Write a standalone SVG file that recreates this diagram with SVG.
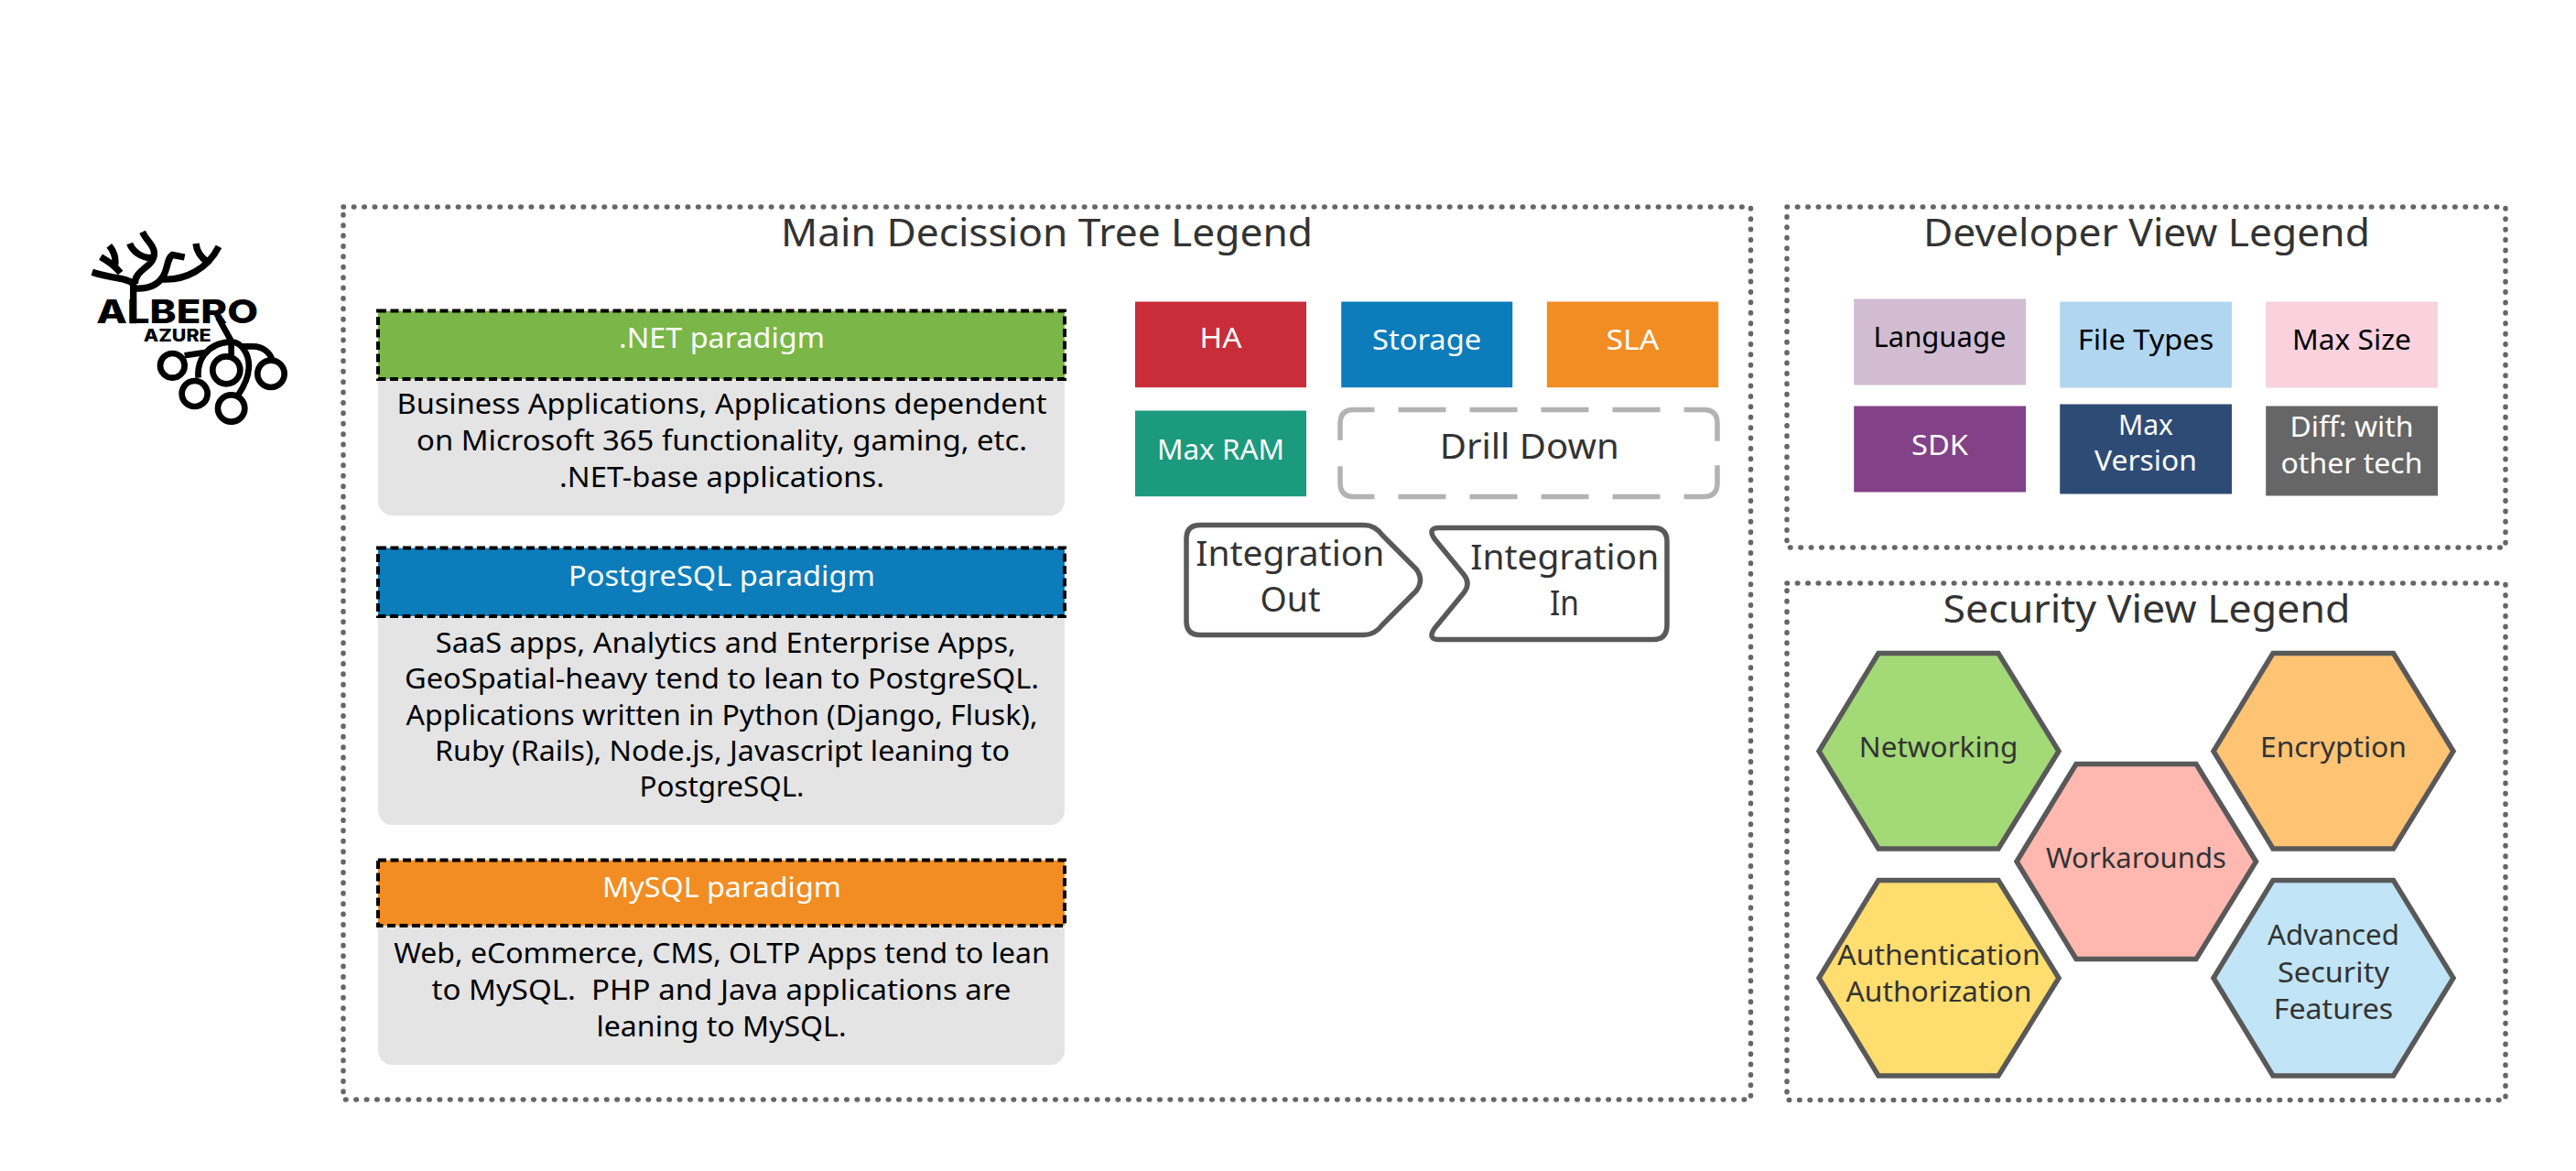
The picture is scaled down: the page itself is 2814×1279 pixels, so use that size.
<svg xmlns="http://www.w3.org/2000/svg" width="2814" height="1279" viewBox="0 0 2814 1279">
<style>
text{font-family:"Noto Sans","Open Sans","DejaVu Sans",sans-serif;text-anchor:middle;font-size:31px;fill:#000}
.title{font-size:42px;fill:#333}
.big{font-size:38px;fill:#333}
.w{fill:#fff}
.d{fill:#333}
.frame{fill:none;stroke:#666;stroke-width:5.5;stroke-linecap:round;stroke-dasharray:.5 10.9}
.head{stroke:#000;stroke-width:4;stroke-dasharray:9 4.5}
.panel{fill:#e4e4e4}
.hex{stroke:#595959;stroke-width:5.5}
.shape{fill:#fff;stroke:#595959;stroke-width:5.5}
.logo{fill:none;stroke:#000;stroke-width:22}
.ring{stroke-width:20}
.lt{font-family:"Inter","Liberation Sans",sans-serif;font-weight:800;fill:#000}
</style>
<rect width="2814" height="1279" fill="#fff"/>
<g id="logo">
<g class="logo" transform="translate(60 210) scale(.3333)">
<path d="M257 430V300M257 302C245 280 190 285 122 262M215 264C195 240 180 230 150 212M197 238Q202 205 178 175M262 300C262 250 330 245 325 195C322 170 300 160 287 130M316 215C285 215 255 195 245 168M262 315C310 318 340 300 355 275C370 250 368 215 385 205L425 213M350 285C430 290 500 250 537 178M500 228C480 215 465 195 462 168"/>
<path class="ring" d="M535 410L578 488M470 608C465 560 490 495 575 490C610 490 640 530 635 580C632 620 610 650 600 665M578 490V540M425 535L490 525M610 505H650C680 505 705 525 712 550"/>
<circle class="ring" cx="385" cy="568" r="40"/><circle class="ring" cx="562" cy="583" r="45"/><circle class="ring" cx="708" cy="595" r="44"/><circle class="ring" cx="458" cy="660" r="42"/><circle class="ring" cx="578" cy="708" r="44"/>
</g>
<text class="lt" x="193.7" y="352.7" style="font-size:36px" textLength="177" lengthAdjust="spacingAndGlyphs">ALBERO</text>
<text class="lt" x="193.7" y="372.7" style="font-size:18.5px" textLength="74" lengthAdjust="spacingAndGlyphs">AZURE</text>
</g>
<g transform="translate(0 1.5)">
<g id="frames">
<rect id="main-frame" class="frame" x="375" y="224.5" width="1537.5" height="975"/>
<rect id="dev-frame" class="frame" x="1952" y="224.5" width="785" height="372"/>
<rect id="sec-frame" class="frame" x="1952" y="635.5" width="785" height="564.5"/>
<text class="title" x="1143.6" y="267.5" textLength="581" lengthAdjust="spacingAndGlyphs">Main Decission Tree Legend</text>
<text class="title" x="2345" y="267.5" textLength="488" lengthAdjust="spacingAndGlyphs">Developer View Legend</text>
<text class="title" x="2345" y="678" textLength="445" lengthAdjust="spacingAndGlyphs">Security View Legend</text>
</g>
<g id="net-paradigm">
<rect class="panel" x="413" y="395" width="750" height="166.7" rx="16"/>
<rect class="head" x="413" y="338" width="750" height="74.5" fill="#7ab648"/>
<text class="w" x="788.5" y="378" textLength="225" lengthAdjust="spacingAndGlyphs">.NET paradigm</text>
<text x="788.5" y="450" textLength="710" lengthAdjust="spacingAndGlyphs">Business Applications, Applications dependent</text>
<text x="788.5" y="490" textLength="667" lengthAdjust="spacingAndGlyphs">on Microsoft 365 functionality, gaming, etc.</text>
<text x="788.5" y="530" textLength="355" lengthAdjust="spacingAndGlyphs">.NET-base applications.</text>
</g>
<g id="postgres-paradigm">
<rect class="panel" x="413" y="655" width="750" height="244.6" rx="16"/>
<rect class="head" x="413" y="597" width="750" height="74.5" fill="#0c7cba"/>
<text class="w" x="788.5" y="638.4" textLength="335" lengthAdjust="spacingAndGlyphs">PostgreSQL paradigm</text>
<text x="792.8" y="711.4" textLength="634" lengthAdjust="spacingAndGlyphs">SaaS apps, Analytics and Enterprise Apps,</text>
<text x="788.5" y="750.6" textLength="693" lengthAdjust="spacingAndGlyphs">GeoSpatial-heavy tend to lean to PostgreSQL.</text>
<text x="788.5" y="790" textLength="690" lengthAdjust="spacingAndGlyphs">Applications written in Python (Django, Flusk),</text>
<text x="789" y="829" textLength="628" lengthAdjust="spacingAndGlyphs">Ruby (Rails), Node.js, Javascript leaning to</text>
<text x="788.5" y="868" textLength="180" lengthAdjust="spacingAndGlyphs">PostgreSQL.</text>
</g>
<g id="mysql-paradigm">
<rect class="panel" x="413" y="990" width="750" height="171.6" rx="16"/>
<rect class="head" x="413" y="938" width="750" height="71.5" fill="#f18d22"/>
<text class="w" x="788.5" y="978" textLength="261" lengthAdjust="spacingAndGlyphs">MySQL paradigm</text>
<text x="788.5" y="1050.6" textLength="716.6" lengthAdjust="spacingAndGlyphs">Web, eCommerce, CMS, OLTP Apps tend to lean</text>
<text x="788" y="1090" textLength="633" lengthAdjust="spacingAndGlyphs" xml:space="preserve">to MySQL.  PHP and Java applications are</text>
<text x="788" y="1130" textLength="273" lengthAdjust="spacingAndGlyphs">leaning to MySQL.</text>
</g>
<g id="ha"><rect x="1240" y="328" width="187" height="93.7" fill="#c92d39"/><text class="w" x="1333.5" y="378" textLength="46" lengthAdjust="spacingAndGlyphs">HA</text></g>
<g id="storage"><rect x="1465.2" y="328" width="187" height="93.7" fill="#0c7cba"/><text class="w" x="1558.6" y="380.7" textLength="119" lengthAdjust="spacingAndGlyphs">Storage</text></g>
<g id="sla"><rect x="1689.8" y="328" width="187.4" height="93.7" fill="#f18d22"/><text class="w" x="1783.5" y="380.7" textLength="58" lengthAdjust="spacingAndGlyphs">SLA</text></g>
<g id="max-ram"><rect x="1240" y="447" width="187" height="93.7" fill="#1b9a7e"/><text class="w" x="1333.5" y="500" textLength="139" lengthAdjust="spacingAndGlyphs">Max RAM</text></g>
<g id="drill-down"><path d="M1670.5 446H1861Q1876 446 1876 461V493.5M1670.5 446H1479Q1464 446 1464 461V493.5M1670.5 541H1861Q1876 541 1876 526V493.5M1670.5 541H1479Q1464 541 1464 526V493.5" fill="none" stroke="#b3b3b3" stroke-width="5.5" stroke-dasharray="0 13 52 26 52 26 65 100"/><text class="big" x="1670.7" y="499" textLength="196" lengthAdjust="spacingAndGlyphs">Drill Down</text></g>
<g id="integration-out"><path class="shape" d="M1296 587Q1296 572 1311 572H1490Q1502 572 1510 583L1547 620Q1556 632 1547 644L1510 681Q1502 692 1490 692H1311Q1296 692 1296 677Z"/><text class="big" x="1409.3" y="616.7" textLength="206" lengthAdjust="spacingAndGlyphs">Integration</text><text class="big" x="1409.5" y="666.7" textLength="66" lengthAdjust="spacingAndGlyphs">Out</text></g>
<g id="integration-in"><path class="shape" d="M1572 575H1806Q1821 575 1821 590V681Q1821 697 1806 697H1572Q1559 697 1567 685L1599 646Q1607 636 1599 626L1567 587Q1559 575 1572 575Z"/><text class="big" x="1709.2" y="620.7" textLength="206" lengthAdjust="spacingAndGlyphs">Integration</text><text class="big" x="1709" y="670.7" textLength="32" lengthAdjust="spacingAndGlyphs">In</text></g>
<g id="language"><rect x="2025.2" y="325" width="187.8" height="94" fill="#d1bcd2"/><text x="2119" y="377.7" textLength="145" lengthAdjust="spacingAndGlyphs">Language</text></g>
<g id="file-types"><rect x="2250.2" y="328" width="187.8" height="94" fill="#b1d6f0"/><text x="2344" y="380" textLength="148.5" lengthAdjust="spacingAndGlyphs">File Types</text></g>
<g id="max-size"><rect x="2475.2" y="328" width="187.8" height="94" fill="#f9d2de"/><text x="2569" y="380" textLength="130" lengthAdjust="spacingAndGlyphs">Max Size</text></g>
<g id="sdk"><rect x="2025.2" y="442" width="187.8" height="94" fill="#834187"/><text class="w" x="2119" y="495" textLength="62" lengthAdjust="spacingAndGlyphs">SDK</text></g>
<g id="max-version"><rect x="2250.2" y="440" width="187.8" height="98" fill="#2e4b75"/><text class="w" x="2344" y="473" textLength="60" lengthAdjust="spacingAndGlyphs">Max</text><text class="w" x="2344" y="512.3" textLength="112" lengthAdjust="spacingAndGlyphs">Version</text></g>
<g id="diff"><rect x="2475.2" y="442" width="187.8" height="98" fill="#666"/><text class="w" x="2569" y="475" textLength="135" lengthAdjust="spacingAndGlyphs">Diff: with</text><text class="w" x="2569" y="515" textLength="155" lengthAdjust="spacingAndGlyphs">other tech</text></g>
<g id="networking"><polygon class="hex" fill="#a3d977" points="1987,819 2052,712 2183,712 2249,819 2183,925.5 2052,925.5"/><text class="d" x="2117.6" y="825.5" textLength="173.5" lengthAdjust="spacingAndGlyphs">Networking</text></g>
<g id="encryption"><polygon class="hex" fill="#ffc374" points="2418,819 2483,712 2614.5,712 2680,819 2614.5,925.5 2483,925.5"/><text class="d" x="2549" y="825.5" textLength="160" lengthAdjust="spacingAndGlyphs">Encryption</text></g>
<g id="workarounds"><polygon class="hex" fill="#ffb8b0" points="2203,939.5 2268,833 2399,833 2464.5,939.5 2399,1046 2268,1046"/><text class="d" x="2333.4" y="946" textLength="197" lengthAdjust="spacingAndGlyphs">Workarounds</text></g>
<g id="authentication"><polygon class="hex" fill="#ffdd6f" points="1987,1066.7 2052,960 2183,960 2249,1066.7 2183,1173.4 2052,1173.4"/><text class="d" x="2118" y="1052" textLength="221.4" lengthAdjust="spacingAndGlyphs">Authentication</text><text class="d" x="2118" y="1092" textLength="203" lengthAdjust="spacingAndGlyphs">Authorization</text></g>
<g id="advanced-security"><polygon class="hex" fill="#c1e4f7" points="2418,1066.7 2483,960 2614.5,960 2680,1066.7 2614.5,1173.4 2483,1173.4"/><text class="d" x="2549" y="1030.6" textLength="144" lengthAdjust="spacingAndGlyphs">Advanced</text><text class="d" x="2549" y="1071" textLength="122" lengthAdjust="spacingAndGlyphs">Security</text><text class="d" x="2549" y="1111" textLength="130.6" lengthAdjust="spacingAndGlyphs">Features</text></g>
</g>
<g id="connectors"/>
</svg>
